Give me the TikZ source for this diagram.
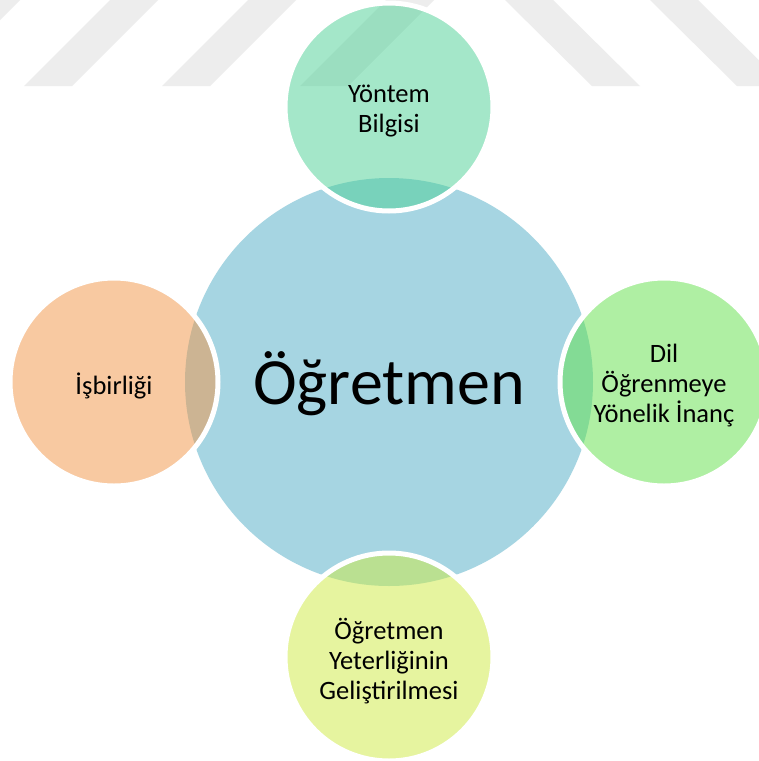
\documentclass[tikz,border=0pt]{standalone}
\usepackage{fontspec}
\setmainfont{Carlito}
\definecolor{stripegray}{RGB}{237,237,237}
\definecolor{hubblue}{RGB}{166,213,226}
\definecolor{mintfill}{RGB}{75,209,149}
\definecolor{limefill}{RGB}{97,225,73}
\definecolor{yellowfill}{RGB}{207,235,65}
\definecolor{peachfill}{RGB}{243,149,69}
\begin{document}
\begin{tikzpicture}[x=1pt,y=-1pt,
  hub/.style={circle,fill=hubblue,minimum size=408pt,inner sep=0pt},
  satellite/.style={circle,minimum size=208pt,inner sep=0pt,
    draw=white,line width=5pt,fill opacity=0.5,draw opacity=1},
  sattext/.style={align=center,inner sep=0pt,
    font=\fontsize{26.5}{30}\selectfont},
  stripe/.style={fill=stripegray,draw=none}]
\clip (0,0) rectangle (759,761);
\fill[white] (0,0) rectangle (759,761);
% diagonal band pattern along the top edge
\foreach \b in {-114,24,162,300}
  \path[stripe] (\b,86) -- (\b+48,86) -- (\b+134,0) -- (\b+86,0) -- cycle;
\foreach \b in {592,737}
  \path[stripe] (\b,86) -- (\b+48,86) -- (\b-39,0) -- (\b-87,0) -- cycle;
% central circle
\node[hub] (hub) at (389,382) {};
% surrounding translucent circles
\node[satellite,fill=mintfill]   (method) at (389,107) {};
\node[satellite,fill=limefill]   (belief) at (664,382) {};
\node[satellite,fill=yellowfill] (growth) at (389,657) {};
\node[satellite,fill=peachfill]  (collab) at (114,382) {};
% labels
\node[sattext] (methodtext) at ([yshift=-4pt]method.center) {Yöntem\\Bilgisi};
\node[sattext] (belieftext) at ([yshift=-4pt]belief.center) {Dil\\Öğrenmeye\\Yönelik İnanç};
\node[sattext] (growthtext) at ([yshift=-4pt]growth.center) {Öğretmen\\Yeterliğinin\\Geliştirilmesi};
\node[sattext] (collabtext) at ([yshift=-4pt]collab.center) {İşbirliği};
\node[font=\fontsize{66}{78}\selectfont,inner sep=0pt] (title) at (389,384) {Öğretmen};
\end{tikzpicture}
\end{document}
